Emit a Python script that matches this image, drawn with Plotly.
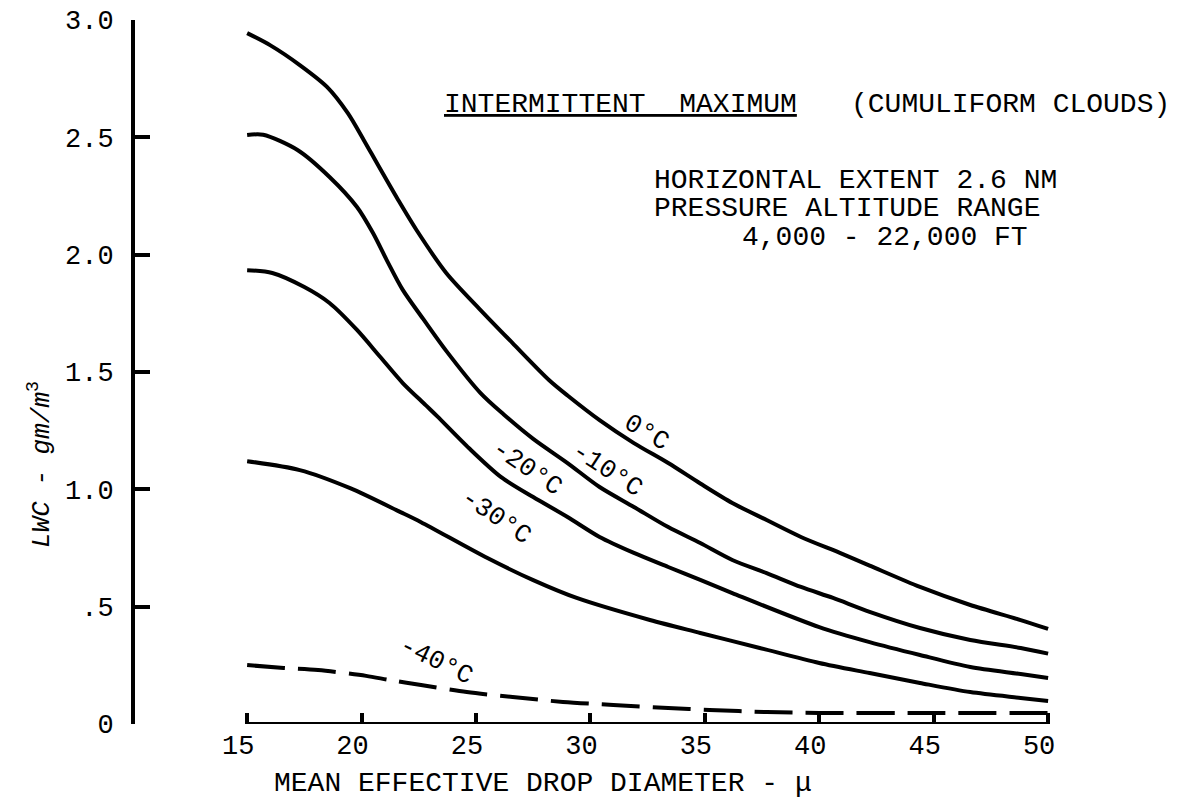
import plotly.graph_objects as go

# ---- data ----
x_0c = [15.0, 16.0, 17.3, 18.5, 19.4, 20.1, 20.7, 21.6, 22.4, 23.7, 25.2, 26.6, 28.2, 29.0, 30.4, 31.9, 33.4, 34.8, 36.2, 37.7, 39.2, 40.9, 42.2, 44.4, 46.6, 48.8, 50.0]
y_0c = [2.944, 2.893, 2.808, 2.714, 2.603, 2.488, 2.385, 2.233, 2.105, 1.922, 1.764, 1.623, 1.465, 1.400, 1.295, 1.197, 1.112, 1.025, 0.942, 0.869, 0.797, 0.729, 0.675, 0.584, 0.507, 0.443, 0.405]

x_m10 = [15.0, 15.7, 17.2, 18.6, 19.8, 20.5, 21.1, 21.8, 22.7, 23.7, 25.2, 26.2, 27.5, 29.0, 30.4, 31.9, 33.4, 34.8, 36.2, 37.7, 39.2, 40.6, 42.2, 44.4, 46.6, 48.8, 50.0]
y_m10 = [2.510, 2.511, 2.446, 2.331, 2.203, 2.092, 1.977, 1.850, 1.725, 1.590, 1.410, 1.320, 1.215, 1.112, 1.010, 0.925, 0.839, 0.771, 0.699, 0.643, 0.584, 0.537, 0.478, 0.409, 0.358, 0.324, 0.300]

x_m20 = [15.0, 16.1, 17.5, 18.6, 19.8, 20.8, 21.8, 22.8, 23.3, 24.7, 26.1, 27.5, 29.0, 30.4, 31.9, 33.4, 34.8, 36.2, 40.0, 42.2, 44.4, 46.6, 48.8, 50.0]
y_m20 = [1.934, 1.922, 1.862, 1.794, 1.679, 1.566, 1.453, 1.359, 1.312, 1.175, 1.052, 0.967, 0.882, 0.797, 0.729, 0.669, 0.614, 0.558, 0.413, 0.349, 0.294, 0.243, 0.213, 0.196]

x_m30 = [15.0, 17.3, 19.5, 21.7, 22.6, 25.5, 27.5, 29.4, 32.6, 34.8, 37.4, 40.0, 42.2, 44.4, 46.6, 48.8, 50.0]
y_m30 = [1.120, 1.082, 1.005, 0.903, 0.860, 0.707, 0.613, 0.537, 0.443, 0.388, 0.324, 0.260, 0.217, 0.175, 0.136, 0.111, 0.098]

x_m40 = [15.0, 16.6, 18.1, 20.2, 21.2, 22.6, 24.6, 26.6, 28.8, 31.0, 33.4, 35.2, 37.7, 40.0, 45.0, 50.0]
y_m40 = [0.251, 0.239, 0.230, 0.205, 0.188, 0.166, 0.136, 0.115, 0.094, 0.081, 0.068, 0.060, 0.051, 0.047, 0.047, 0.047]

x_ticks = [15, 20, 25, 30, 35, 40, 45, 50]
x_tick_labels = ["15", "20", "25", "30", "35", "40", "45", "50"]
y_ticks = [0, 0.5, 1.0, 1.5, 2.0, 2.5, 3.0]
y_tick_labels = ["0", ".5", "1.0", "1.5", "2.0", "2.5", "3.0"]

curve_labels = ["0°C", "-10°C", "-20°C", "-30°C", "-40°C"]
label_x = [32.47, 30.73, 27.23, 25.88, 23.26]
label_y = [1.240, 1.082, 1.091, 0.882, 0.268]
label_angle = [30, 33, 34, 34, 26]

FONT = "Liberation Mono"
BLACK = "#000000"

# The page body has an 8px margin, so the figure is sized to fit inside the window.
OFF = 8
W, H = 1178 - OFF, 799 - OFF
ML, MT = 135 - OFF, 20 - OFF
PW, PH = 936, 704
MR, MB = W - ML - PW, H - MT - PH


def px_to_paper(px, py):
    # px, py are window (screenshot) pixel coordinates
    return (px - OFF - ML) / PW, (MT + PH - (py - OFF)) / PH


fig = go.Figure()

series = [(x_0c, y_0c, "solid"), (x_m10, y_m10, "solid"), (x_m20, y_m20, "solid"),
          (x_m30, y_m30, "solid"), (x_m40, y_m40, "38px,13px")]
for xs, ys, dash in series:
    fig.add_trace(go.Scatter(x=xs, y=ys, mode="lines",
                             line=dict(color=BLACK, width=4, dash=dash, shape="spline", smoothing=0.8),
                             showlegend=False, hoverinfo="skip"))

# x axis baseline from first to last tick
fig.add_shape(type="line", xref="x", yref="y", x0=x_ticks[0], x1=x_ticks[-1], y0=0, y1=0,
              line=dict(color=BLACK, width=4))

annotations = []
for t, xx, yy, ang in zip(curve_labels, label_x, label_y, label_angle):
    annotations.append(dict(x=xx, y=yy, xref="x", yref="y", text=t, showarrow=False,
                            textangle=ang, font=dict(family=FONT, size=26, color=BLACK)))

ytx, yty = px_to_paper(40, 465)
xtx, xty = px_to_paper(543, 783)

annotations += [
    dict(x=23.52, y=2.64, xref="x", yref="y", xanchor="left", yanchor="middle", showarrow=False,
         text="<u>INTERMITTENT\u00a0\u00a0MAXIMUM</u>", font=dict(family=FONT, size=28, color=BLACK)),
    dict(x=41.30, y=2.64, xref="x", yref="y", xanchor="left", yanchor="middle", showarrow=False,
         text="(CUMULIFORM CLOUDS)", font=dict(family=FONT, size=28, color=BLACK)),
    dict(x=32.70, y=2.318, xref="x", yref="y", xanchor="left", yanchor="middle", showarrow=False,
         text="HORIZONTAL EXTENT 2.6 NM", font=dict(family=FONT, size=28, color=BLACK)),
    dict(x=32.70, y=2.195, xref="x", yref="y", xanchor="left", yanchor="middle", showarrow=False,
         text="PRESSURE ALTITUDE RANGE", font=dict(family=FONT, size=28, color=BLACK)),
    dict(x=36.54, y=2.075, xref="x", yref="y", xanchor="left", yanchor="middle", showarrow=False,
         text="4,000 - 22,000 FT", font=dict(family=FONT, size=28, color=BLACK)),
    dict(x=ytx, y=yty, xref="paper", yref="paper", xanchor="center", yanchor="middle",
         showarrow=False, text="<i>LWC - gm/m</i><sup>3</sup>", textangle=-90,
         font=dict(family=FONT, size=26, color=BLACK)),
    dict(x=xtx, y=xty, xref="paper", yref="paper", xanchor="center", yanchor="middle",
         showarrow=False, text="MEAN EFFECTIVE DROP DIAMETER - μ",
         font=dict(family=FONT, size=28, color=BLACK)),
]

fig.update_layout(
    width=W, height=H,
    margin=dict(l=ML, r=MR, t=MT, b=MB, autoexpand=False),
    paper_bgcolor="white", plot_bgcolor="white",
    showlegend=False,
    annotations=annotations,
    xaxis=dict(range=[10.1, 51.0], showgrid=False, zeroline=False, showline=False,
               automargin=False, ticklabeloverflow="allow",
               tickmode="array", tickvals=x_ticks, ticktext=x_tick_labels,
               ticks="inside", ticklen=11, tickwidth=4, tickcolor=BLACK,
               ticklabelshift=-9, ticklabelstandoff=2,
               tickfont=dict(family=FONT, size=27, color=BLACK)),
    yaxis=dict(range=[0, 3.0], showgrid=False, zeroline=False, showline=True,
               automargin=False, ticklabeloverflow="allow",
               linecolor=BLACK, linewidth=4,
               tickmode="array", tickvals=y_ticks, ticktext=y_tick_labels,
               ticks="inside", ticklen=15, tickwidth=4, tickcolor=BLACK,
               ticklabelstandoff=12,
               tickfont=dict(family=FONT, size=27, color=BLACK)),
)

fig.write_html("out.html")
